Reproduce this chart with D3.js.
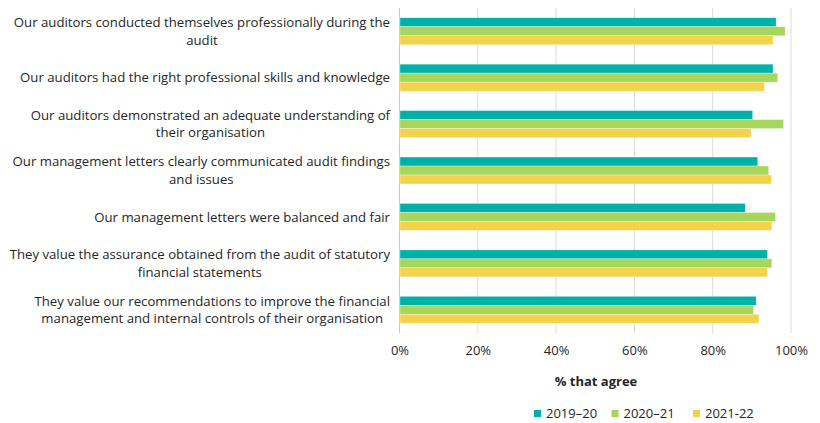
<!DOCTYPE html>
<html><head><meta charset="utf-8">
<script src="https://cdn.jsdelivr.net/npm/d3@7"></script>
<style>body{margin:0;background:#fff}svg{display:block}text{font-family:"Open Sans",sans-serif;fill:#262626}</style>
</head><body><svg id="c" width="820" height="423"></svg>
<script>
const categories = [
  "Our auditors conducted themselves professionally during the\naudit",
  "Our auditors had the right professional skills and knowledge",
  "Our auditors demonstrated an adequate understanding of\ntheir organisation",
  "Our management letters clearly communicated audit findings\nand issues",
  "Our management letters were balanced and fair",
  "They value the assurance obtained from the audit of statutory\nfinancial statements",
  "They value our recommendations to improve the financial\nmanagement and internal controls of their organisation"
];
const seriesNames = ["2019\u201320", "2020\u201321", "2021-22"];
const s2019_20 = [96.2, 95.4, 90.2, 91.5, 88.3, 94.0, 91.1];
const s2020_21 = [98.5, 96.6, 98.1, 94.3, 96.0, 95.1, 90.4];
const s2021_22 = [95.4, 93.2, 89.8, 95.0, 95.1, 94.0, 91.8];
const tickValues = [0, 20, 40, 60, 80, 100];
const colors = ["#00b1a9", "#a6d65b", "#f3d34c"];

const series = [s2019_20, s2020_21, s2021_22];
const svg = d3.select("#c");
const x = d3.scaleLinear().domain([0, 100]).range([399.5, 791]);
const y = d3.scaleBand().domain(categories).range([8, 333]).paddingInner(0.42).paddingOuter(0.21);
const ySub = d3.scaleBand().domain(d3.range(3)).range([0, y.bandwidth()]);

// gridlines
svg.append("g").selectAll("line").data(tickValues).join("line")
  .attr("x1", d => x(d)).attr("x2", d => x(d)).attr("y1", 8).attr("y2", 333)
  .attr("stroke", d => d === 0 ? "#c8c8c8" : "#dcdcdc").attr("stroke-width", 1);

// bars
const g = svg.append("g").selectAll("g").data(categories).join("g")
  .attr("transform", d => `translate(0,${y(d)})`);
g.selectAll("rect").data((d, i) => series.map((s, k) => ({k, v: s[i]}))).join("rect")
  .attr("x", x(0) + 0.5).attr("y", d => ySub(d.k))
  .attr("width", d => x(d.v) - x(0) - 0.5).attr("height", ySub.bandwidth())
  .attr("fill", d => colors[d.k])
  .attr("stroke", "#ffffff").attr("stroke-opacity", 0.5).attr("stroke-width", 0.6);

// x axis labels
const xAxis = d3.axisBottom(x).tickValues(tickValues).tickFormat(d => d + "%").tickSize(0).tickPadding(0);
const ax = svg.append("g").attr("transform", "translate(0,346)").call(xAxis);
ax.select(".domain").remove();
ax.selectAll("text").attr("font-size", 13).style("font-family", '"Open Sans",sans-serif').attr("fill", "#262626").attr("dy", "0.71em");

svg.append("text").attr("x", 596).attr("y", 386).attr("text-anchor", "middle")
  .attr("font-size", 13).attr("font-weight", "bold").text("% that agree");

// category labels
const lab = svg.append("g").selectAll("text").data(categories).join("text")
  .attr("text-anchor", "end").attr("font-size", 13.2);
lab.each(function(d) {
  const lines = d.split("\n");
  const cy = y(d) + y.bandwidth() / 2;
  const lh = 17.4;
  const t = d3.select(this);
  lines.forEach((ln, i) => {
    const yy = cy + (i - (lines.length - 1) / 2) * lh;
    t.append("tspan").attr("x", lines.length > 1 && i === lines.length - 1 ? null : 390)
      .attr("y", yy).attr("dy", "0.35em").text(ln);
  });
});
// center last line of wrapped labels under the first line
lab.each(function() {
  const tsp = d3.select(this).selectAll("tspan").nodes();
  if (tsp.length > 1) {
    const w0 = tsp[0].getComputedTextLength();
    const center = 390 - w0 / 2;
    d3.select(tsp[1]).attr("x", center).attr("text-anchor", "middle");
  }
});

// legend
const leg = svg.append("g").selectAll("g").data(seriesNames).join("g")
  .attr("transform", (d, i) => `translate(${[534, 611.5, 693][i]},410)`);
leg.append("rect").attr("width", 7).attr("height", 7).attr("fill", (d, i) => colors[i]);
leg.append("text").attr("x", 12).attr("y", 3.5).attr("dy", "0.35em").attr("font-size", 13).text(d => d);
</script></body></html>
